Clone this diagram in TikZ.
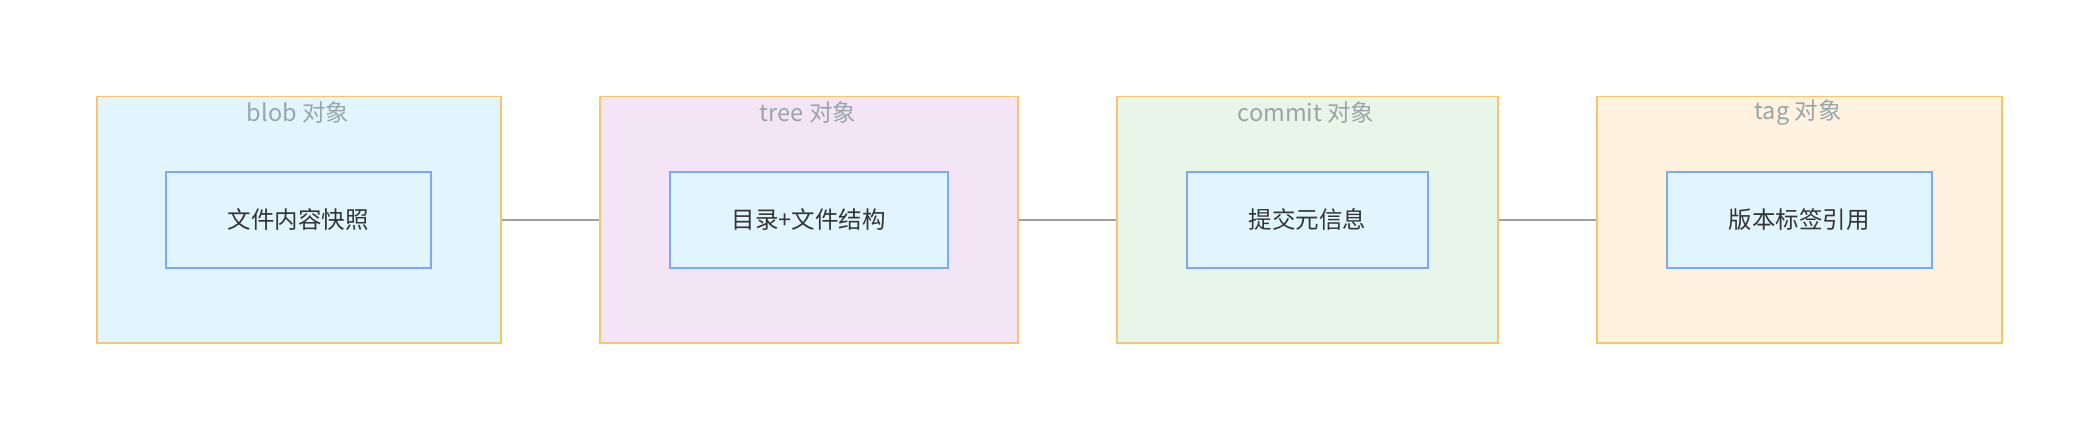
\documentclass[tikz,border=0pt]{standalone}
\usepackage{fontspec}
\setmainfont{Noto Sans CJK SC}
\definecolor{obord}{HTML}{F5C66E}
\definecolor{ibord}{HTML}{7FA8F0}
\definecolor{ifill}{HTML}{E1F5FE}
\definecolor{fblob}{HTML}{E1F5FE}
\definecolor{ftree}{HTML}{F3E5F5}
\definecolor{fcommit}{HTML}{E8F5E9}
\definecolor{ftag}{HTML}{FFF3E0}
\definecolor{lbl}{HTML}{9AA5A8}
\definecolor{txt}{HTML}{333333}
\definecolor{conn}{HTML}{A0A0A0}
\tikzset{
  outerbox/.style={draw=obord, line width=1.5pt, rectangle, inner sep=0pt, anchor=north west},
  innerbox/.style={draw=ibord, fill=ifill, line width=1.8pt, rectangle, inner sep=0pt, anchor=north west},
  grouplabel/.style={font=\fontsize{23.5}{26}\selectfont, text=lbl},
  boxtext/.style={font=\fontsize{23.5}{26}\selectfont, text=txt},
  link/.style={draw=conn, line width=1.5pt}
}
\begin{document}
\begin{tikzpicture}[x=1pt,y=-1pt]
\useasboundingbox (0,0) rectangle (2096,438);
\node[outerbox, fill=fblob, minimum width=404pt, minimum height=246pt] (blob) at (96,96) {};
\node[outerbox, fill=ftree, minimum width=418pt, minimum height=246pt] (tree) at (599,96) {};
\node[outerbox, fill=fcommit, minimum width=381pt, minimum height=246pt] (commit) at (1116,96) {};
\node[outerbox, fill=ftag, minimum width=405pt, minimum height=246pt] (tag) at (1596,96) {};
\node[grouplabel] (lblob) at (298,113) {blob 对象};
\node[grouplabel] (ltree) at (808,113) {tree 对象};
\node[grouplabel] (lcommit) at (1306,113) {commit 对象};
\node[grouplabel] (ltag) at (1798,113) {tag 对象};
\node[innerbox, minimum width=265pt, minimum height=96pt] (iblob) at (165,171) {};
\node[innerbox, minimum width=278pt, minimum height=96pt] (itree) at (669,171) {};
\node[innerbox, minimum width=241pt, minimum height=96pt] (icommit) at (1186,171) {};
\node[innerbox, minimum width=265pt, minimum height=96pt] (itag) at (1666,171) {};
\node[boxtext] (tblob) at (iblob.center) {文件内容快照};
\node[boxtext] (ttree) at (itree.center) {目录+文件结构};
\node[boxtext] (tcommit) at (icommit.center) {提交元信息};
\node[boxtext] (ttag) at (itag.center) {版本标签引用};
\draw[link] (blob.east |- iblob.center) -- (tree.west |- iblob.center);
\draw[link] (tree.east |- iblob.center) -- (commit.west |- iblob.center);
\draw[link] (commit.east |- iblob.center) -- (tag.west |- iblob.center);
\end{tikzpicture}
\end{document}
